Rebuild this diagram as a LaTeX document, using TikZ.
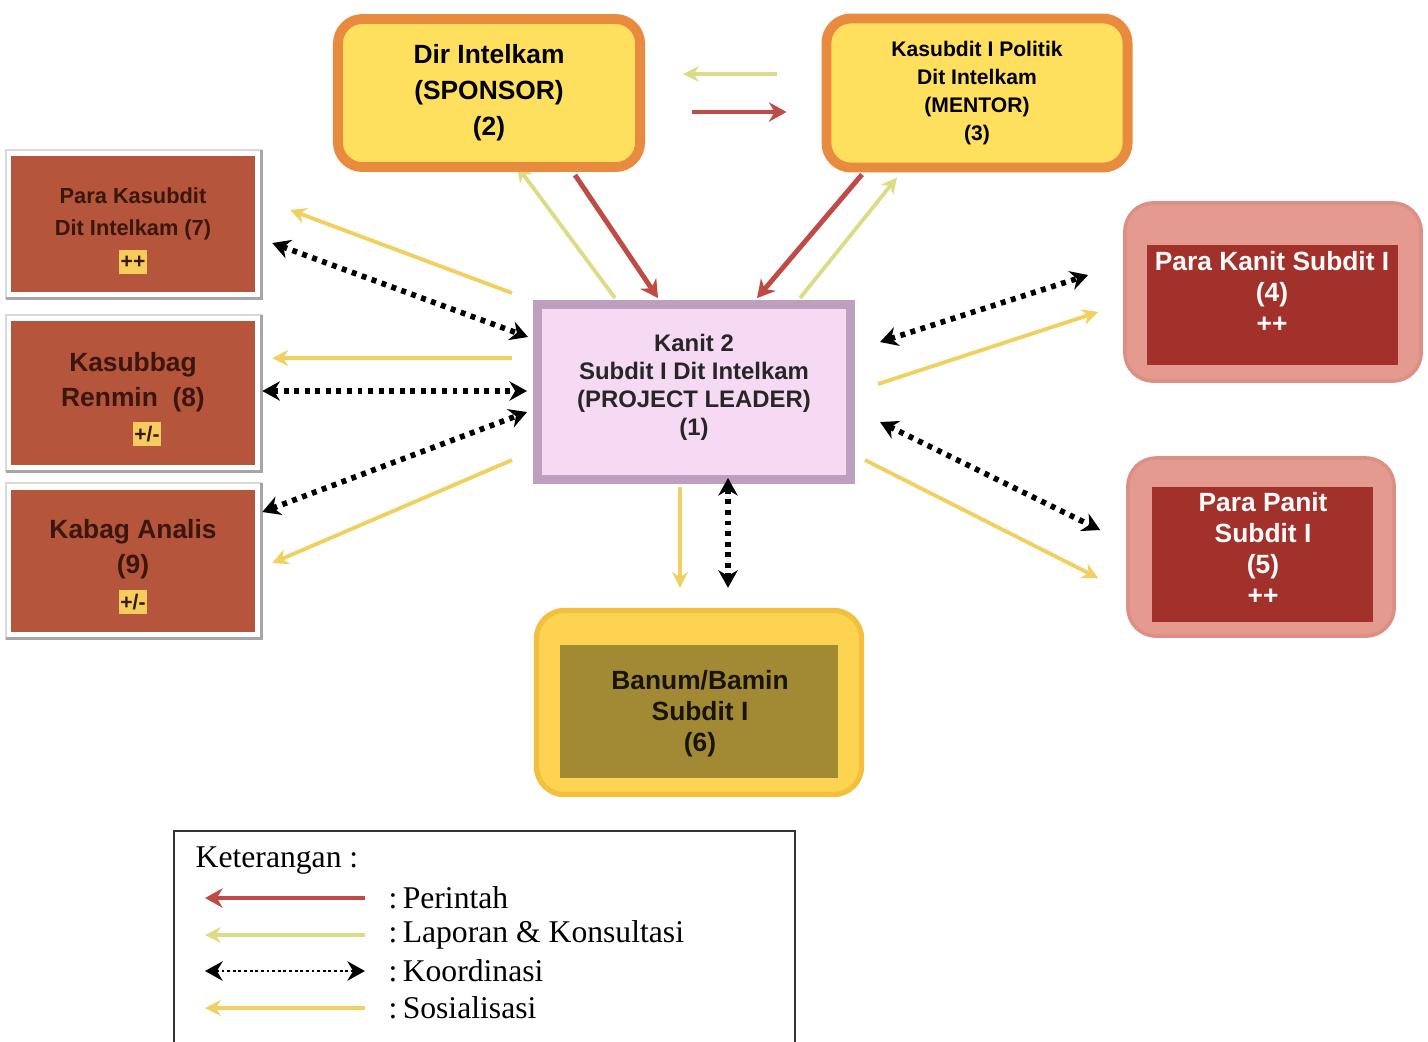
\documentclass[tikz,border=0pt]{standalone}
\usepackage{fontspec}
\setmainfont{Liberation Sans}
\newfontfamily\legfont{Liberation Serif}
\usetikzlibrary{arrows.meta,calc}
\pgfdeclarelayer{bg}
\pgfdeclarelayer{canvas}
\pgfsetlayers{canvas,bg,main}
\definecolor{sponfill}{HTML}{FEDF5E}
\definecolor{sponborder}{HTML}{E98B3E}
\definecolor{plfill}{HTML}{F6D9F3}
\definecolor{plborder}{HTML}{BF9FBF}
\definecolor{rust}{HTML}{B5553B}
\definecolor{rusttext}{HTML}{3A160C}
\definecolor{badgefill}{HTML}{F6CC5C}
\definecolor{salmon}{HTML}{E49A8F}
\definecolor{salmonborder}{HTML}{DC8F84}
\definecolor{darkred}{HTML}{A2312B}
\definecolor{goldouter}{HTML}{FCD452}
\definecolor{goldborder}{HTML}{F2BF3E}
\definecolor{olivefill}{HTML}{A28A34}
\definecolor{perintahc}{HTML}{C04A45}
\definecolor{laporanc}{HTML}{DCDC88}
\definecolor{sosialc}{HTML}{F0D060}
\tikzset{
  perintahline/.style={draw=perintahc, line width=1.4pt, -{Stealth[length=5pt,width=5.5pt]}},
  laporanline/.style={draw=laporanc, line width=1.1pt, -{Stealth[length=4.5pt,width=4.5pt]}},
  sosline/.style={draw=sosialc, line width=1.1pt, -{Stealth[length=4.5pt,width=4.5pt]}},
  koordline/.style={draw=black, line width=1.6pt, dash pattern=on 1.4pt off 1.6pt,
     {Stealth[length=5pt,width=5.5pt]}-{Stealth[length=5pt,width=5.5pt]}},
  sponbox/.style={rectangle, rounded corners=7pt, fill=sponfill, draw=sponborder, line width=2.8pt,
     inner sep=0pt, align=center, font=\bfseries\fontsize{7.5}{10.2}\selectfont},
  plbox/.style={rectangle, fill=plfill, draw=plborder, line width=2.5pt, inner sep=0pt},
  leftbox/.style={rectangle, fill=rust, inner sep=0pt, minimum width=2.43cm},
  lefttext/.style={align=center, text=rusttext, inner sep=0pt},
  badge/.style={rectangle, fill=badgefill, inner sep=0pt, minimum width=0.28cm, minimum height=0.24cm,
     text=rusttext, font=\bfseries\fontsize{6}{7}\selectfont},
  salmonbox/.style={rectangle, rounded corners=8pt, fill=salmon, draw=salmonborder, line width=1pt, inner sep=0pt},
  redinner/.style={rectangle, fill=darkred, inner sep=0pt},
  whitetext/.style={align=center, text=white!94!pink, inner sep=0pt, font=\bfseries\fontsize{7.5}{8.8}\selectfont},
  goldbox/.style={rectangle, rounded corners=8pt, fill=goldouter, draw=goldborder, line width=1.5pt, inner sep=0pt},
  oliveinner/.style={rectangle, fill=olivefill, inner sep=0pt},
  legtext/.style={anchor=west, inner sep=0pt, font=\legfont\fontsize{9}{10}\selectfont},
}
\begin{document}
\begin{tikzpicture}[x=0.01cm,y=-0.01cm]
\useasboundingbox (0,0) rectangle (1428,1041);
\begin{pgfonlayer}{canvas}
  \fill[white] (0,0) rectangle (1428,1041);
\end{pgfonlayer}

% top boxes
\node[sponbox, minimum width=3.02cm, minimum height=1.48cm] (spon) at (489,93)
  {Dir Intelkam\\(SPONSOR)\\(2)};
\node[sponbox, minimum width=3.01cm, minimum height=1.49cm,
  font=\bfseries\fontsize{6}{8}\selectfont] (ment) at (977,93)
  {Kasubdit I Politik\\Dit Intelkam\\(MENTOR)\\(3)};

% project leader
\node[plbox, minimum width=3.13cm, minimum height=1.75cm] (pl) at (694,392) {};
\node[align=center, inner sep=0pt, font=\bfseries\fontsize{6.8}{8}\selectfont, text=black!85] (plt) at (694,387)
  {Kanit 2\\Subdit I Dit Intelkam\\(PROJECT LEADER)\\(1)};

% left boxes
\node[leftbox, minimum height=1.35cm] (k7) at (133,224) {};
\node[leftbox, minimum height=1.43cm] (k8) at (133,393) {};
\node[leftbox, minimum height=1.42cm] (k9) at (133,561) {};
\begin{pgfonlayer}{bg}
  \foreach \k in {k7,k8,k9}{
    \draw[black!15, line width=0.6pt, fill=white] ($(\k.north west)+(-5,-6)$) rectangle ($(\k.south east)+(6,6)$);
    \draw[black!35, line width=0.9pt] ($(\k.north east)+(6,-6)$) -- ($(\k.south east)+(6,6)$) -- ($(\k.south west)+(-5,6)$);
  }
\end{pgfonlayer}
\node[lefttext, font=\bfseries\fontsize{6.2}{9.1}\selectfont] (t7) at (133,214) {Para Kasubdit\\Dit Intelkam (7)};
\node[badge] (b7) at (133,262) {++};
\node[lefttext, font=\bfseries\fontsize{7.5}{10}\selectfont] (t8) at (133,382) {Kasubbag\\Renmin~~(8)};
\node[badge] (b8) at (147,434) {+/-};
\node[lefttext, font=\bfseries\fontsize{7.5}{10}\selectfont] (t9) at (133,549) {Kabag Analis\\(9)};
\node[badge] (b9) at (133,602) {+/-};

% right boxes
\node[salmonbox, minimum width=2.96cm, minimum height=1.78cm] (k4) at (1273,292) {};
\node[redinner, minimum width=2.51cm, minimum height=1.20cm] (k4in) at (1272.5,305) {};
\node[whitetext] (t4) at (1272,292) {Para Kanit Subdit I\\(4)\\++};
\node[salmonbox, minimum width=2.66cm, minimum height=1.78cm] (k5) at (1261,547) {};
\node[redinner, minimum width=2.21cm, minimum height=1.35cm] (k5in) at (1262.5,554.5) {};
\node[whitetext] (t5) at (1263,548) {Para Panit\\Subdit I\\(5)\\++};

% bottom box
\node[goldbox, minimum width=3.25cm, minimum height=1.84cm] (k6) at (699,702.5) {};
\node[oliveinner, minimum width=2.78cm, minimum height=1.33cm] (k6in) at (699,711.5) {};
\node[align=center, inner sep=0pt, text=black!85!olivefill, font=\bfseries\fontsize{7.5}{8.8}\selectfont] (t6) at (700,714)
  {Banum/Bamin\\Subdit I\\(6)};

% connectors: sponsor / mentor
\draw[laporanline] ($(ment.west)+(-45,-19)$) -- ($(spon.east)+(38,-19)$);
\draw[perintahline] ($(spon.east)+(47,19)$) -- ($(ment.west)+(-35,19)$);
\begin{pgfonlayer}{bg}
  \draw[laporanline] ($(pl.north)+(-79,-2)$) -- ($(spon.south)+(28,-6)$);
\end{pgfonlayer}
\draw[perintahline] ($(spon.south)+(86,3)$) -- ($(pl.north)+(-36,-2)$);
\draw[perintahline] ($(ment.south)+(-115,2)$) -- ($(pl.north)+(63,-2)$);
\draw[laporanline] ($(pl.north)+(106,-2)$) -- ($(ment.south)+(-80,5)$);

% left connectors
\draw[sosline] ($(pl.west)+(-21,-99)$) -- ($(k7.east)+(35,-14)$);
\draw[koordline] ($(k7.east)+(17,19)$) -- ($(pl.west)+(-5,-55)$);
\draw[sosline] ($(pl.west)+(-21,-34)$) -- ($(k8.east)+(17,-35)$);
\draw[koordline] ($(k8.east)+(7,-2)$) -- ($(pl.west)+(-6,-1)$);
\draw[koordline] ($(k9.east)+(7,-49)$) -- ($(pl.west)+(-6,20)$);
\draw[sosline] ($(pl.west)+(-21,68)$) -- ($(k9.east)+(17,2)$);

% right connectors
\draw[koordline] ($(pl.east)+(25,-50)$) -- ($(k4.west)+(-35,-17)$);
\draw[sosline] ($(pl.east)+(23,-8)$) -- ($(k4.west)+(-25,20)$);
\draw[koordline] ($(pl.east)+(25,30)$) -- ($(k5.west)+(-26,-17)$);
\draw[sosline] ($(pl.east)+(10,68)$) -- ($(k5.west)+(-28,31)$);

% down connectors
\draw[sosline] ($(pl.south)+(-14,3)$) -- ($(k6.north)+(-19,-20)$);
\draw[koordline] ($(pl.south)+(34,-6)$) -- ($(k6.north)+(29,-20)$);

% legend
\draw[black!80, line width=0.8pt] (174,1045) -- (174,831) -- (795,831) -- (795,1045);
\node[legtext] (lk) at (195,861) {Keterangan :};
\coordinate (l1a) at (365,898); \coordinate (l1b) at (205,898);
\coordinate (l2a) at (365,935); \coordinate (l2b) at (205,935);
\coordinate (l3a) at (205,971); \coordinate (l3b) at (365,971);
\coordinate (l4a) at (365,1008); \coordinate (l4b) at (205,1008);
\draw[perintahline, line width=1.1pt] (l1a) -- (l1b);
\draw[laporanline, line width=1pt] (l2a) -- (l2b);
\draw[koordline, line width=0.8pt, dash pattern=on 0.8pt off 0.8pt] (l3a) -- (l3b);
\draw[sosline, line width=1pt] (l4a) -- (l4b);
\node[legtext] (lt1) at (388,898) {:\,Perintah};
\node[legtext] (lt2) at (388,935) {:\,Laporan \& Konsultasi};
\node[legtext] (lt3) at (388,971) {:\,Koordinasi};
\node[legtext] (lt4) at (388,1008) {:\,Sosialisasi};
\end{tikzpicture}
\end{document}
